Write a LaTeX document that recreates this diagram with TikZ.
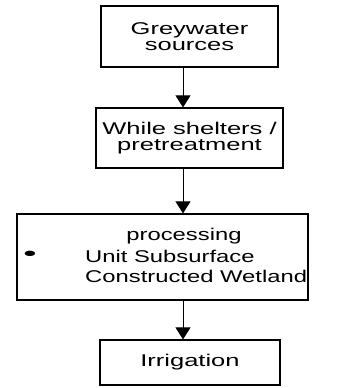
\documentclass[tikz,border=0pt]{standalone}
\usepackage{fontspec}
\setmainfont{Liberation Sans}[FakeStretch=1.5]
\newfontfamily\narrowfont{Liberation Sans}[FakeStretch=1.4]
\newfontfamily\bulletfont{Liberation Sans}[FakeStretch=1.9]
\usetikzlibrary{arrows.meta, positioning, calc}

\tikzset{
  flowtext/.style={font=\fontsize{17pt}{16pt}\selectfont, inner sep=0pt},
  wettext/.style={font=\narrowfont\fontsize{17pt}{16pt}\selectfont, inner sep=0pt},
  stagebox/.style={draw=black, line width=1.2pt, flowtext, align=center},
  flowarrow/.style={line width=0.8pt, -{Triangle[width=15pt, length=12pt]}}
}

\begin{document}
\begin{tikzpicture}[x=1pt, y=1pt]
  \useasboundingbox (0,0) rectangle (340,-388);
  \coordinate (axis) at (183,0);

  % stages
  \node[stagebox, minimum width=177pt, minimum height=61pt] (sources) at (189.5,-36.5) {Greywater\\sources};
  \node[stagebox, minimum width=187pt, minimum height=60pt] (shelters) at (189.5,-138) {While shelters /\\pretreatment};
  \node[stagebox, minimum width=291pt, minimum height=86pt] (wetland) at (162.5,-257) {};
  \node[stagebox, minimum width=180pt, minimum height=45pt] (irrigation) at (190,-362.5) {Irrigation};

  % text of the wetland stage
  \node[wettext, anchor=base] (processing) at (184,-240) {processing};
  \node[inner sep=0pt, font=\bulletfont\fontsize{20pt}{20pt}\selectfont] (bullet) at (30,-255.5) {\textbullet};
  \node[wettext, anchor=base west] (unit) at (85,-262) {Unit Subsurface};
  \node[wettext, anchor=base west] (constructed) at (85,-282) {Constructed Wetland};

  % flow
  \draw[flowarrow] (sources.south -| axis) -- (shelters.north -| axis);
  \draw[flowarrow] (shelters.south -| axis) -- (wetland.north -| axis);
  \draw[flowarrow] (wetland.south -| axis) -- (irrigation.north -| axis);
\end{tikzpicture}
\end{document}
